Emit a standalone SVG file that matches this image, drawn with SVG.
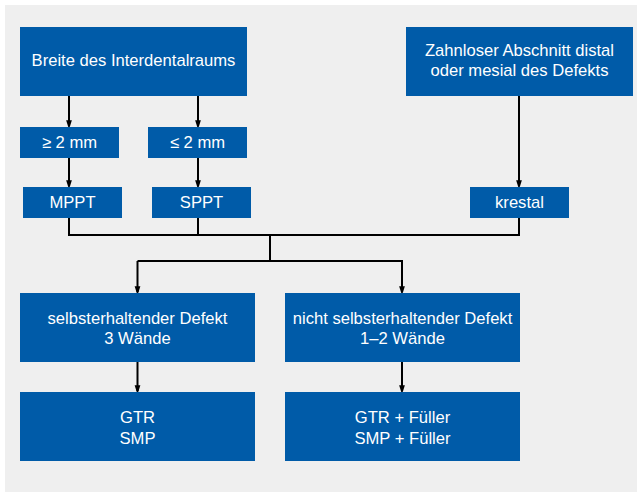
<svg xmlns="http://www.w3.org/2000/svg" width="638" height="493" viewBox="0 0 638 493">
<style>
.box{fill:#005BA8}
.t{font-family:"Liberation Sans",Arial,sans-serif;font-size:16.6px;fill:#fff;text-anchor:middle}
.c{fill:none;stroke:#000;stroke-width:2}
</style>
<defs>
<marker id="ah" markerUnits="userSpaceOnUse" markerWidth="9" markerHeight="14" refX="9" refY="4.5" orient="auto" viewBox="0 0 14 9">
<path d="M0,0 L14,4.5 L0,9 Z" fill="#000"/>
</marker>
</defs>
<rect x="5" y="5" width="632" height="487" fill="#EFEFEF"/>
<g id="connectors">
<path class="c" d="M69,96 V126" marker-end="url(#ah)"/>
<path class="c" d="M198,96 V126" marker-end="url(#ah)"/>
<path class="c" d="M69,158 V186" marker-end="url(#ah)"/>
<path class="c" d="M198,158 V186" marker-end="url(#ah)"/>
<path class="c" d="M519,96 V186" marker-end="url(#ah)"/>
<path class="c" d="M69,218 V235 H519 V218"/>
<path class="c" d="M198,218 V235"/>
<path class="c" d="M270,235 V261"/>
<path class="c" d="M137.5,261 H402 V292" marker-end="url(#ah)"/>
<path class="c" d="M137.5,261 V292" marker-end="url(#ah)"/>
<path class="c" d="M137.5,362 V391" marker-end="url(#ah)"/>
<path class="c" d="M402,362 V391" marker-end="url(#ah)"/>
</g>
<g id="breite"><rect class="box" x="20" y="27" width="227" height="69"/><text class="t" x="133.5" y="66">Breite des Interdentalraums</text></g>
<g id="zahnlos"><rect class="box" x="406" y="27" width="227" height="69"/><text class="t" x="519.5" y="56">Zahnloser Abschnitt distal</text><text class="t" x="519.5" y="76">oder mesial des Defekts</text></g>
<g id="ge2"><rect class="box" x="20" y="127" width="99" height="31"/><text class="t" x="69.5" y="148">≥ 2 mm</text></g>
<g id="le2"><rect class="box" x="148" y="127" width="99" height="31"/><text class="t" x="197.5" y="148">≤ 2 mm</text></g>
<g id="mppt"><rect class="box" x="23" y="187" width="99" height="31"/><text class="t" x="72.5" y="208">MPPT</text></g>
<g id="sppt"><rect class="box" x="152" y="187" width="99" height="31"/><text class="t" x="201.5" y="208">SPPT</text></g>
<g id="krestal"><rect class="box" x="470" y="187" width="99" height="31"/><text class="t" x="519.5" y="208">krestal</text></g>
<g id="selbst"><rect class="box" x="20" y="293" width="235" height="69"/><text class="t" x="137.5" y="324">selbsterhaltender Defekt</text><text class="t" x="137.5" y="344">3 Wände</text></g>
<g id="nicht"><rect class="box" x="285" y="293" width="235" height="69"/><text class="t" x="402.5" y="324">nicht selbsterhaltender Defekt</text><text class="t" x="402.5" y="344">1–2 Wände</text></g>
<g id="gtr"><rect class="box" x="20" y="392" width="235" height="69"/><text class="t" x="137.5" y="423">GTR</text><text class="t" x="137.5" y="444">SMP</text></g>
<g id="gtrf"><rect class="box" x="285" y="392" width="235" height="69"/><text class="t" x="402.5" y="423">GTR + Füller</text><text class="t" x="402.5" y="444">SMP + Füller</text></g>
</svg>
